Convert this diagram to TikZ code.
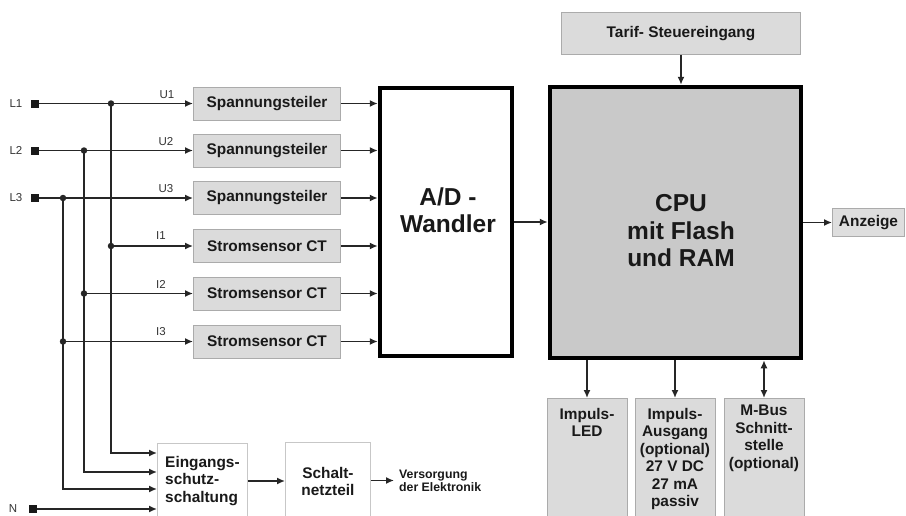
\documentclass[tikz,border=0pt]{standalone}
\usepackage{fontspec}
\setmainfont{Liberation Sans}
\usetikzlibrary{arrows.meta}

\begin{document}
\begin{tikzpicture}[x=1pt, y=-1pt,
            wire/.style={color=black!85, line width=1.5pt},
            feed/.style={wire, -{Latex[length=8pt, width=7pt]}},
            twoway/.style={wire, {Latex[length=8pt, width=7pt]}-{Latex[length=8pt, width=7pt]}},
            greybox/.style={draw=black!33, fill=black!14, line width=0.9pt},
            whitebox/.style={draw=black!22, fill=white, line width=0.9pt},
            bigbox/.style={draw=black, line width=4.5pt},
            boxtext/.style={align=center, text=black!90, inner sep=2pt, font=\bfseries\fontsize{15.4}{17.5}\selectfont},
            bigtext/.style={align=center, text=black!90, inner sep=2pt, font=\bfseries\fontsize{24.5}{27.5}\selectfont},
            smalltext/.style={align=left, text=black!90, inner xsep=5pt, inner ysep=1pt, font=\bfseries\fontsize{12.3}{13}\selectfont},
            sig/.style={text=black!80, inner sep=1pt, font=\fontsize{11.5}{13}\selectfont},
            term/.style={fill=black!90, minimum size=8pt, inner sep=0pt},
            joint/.style={circle, fill=black!85, minimum size=6.5pt, inner sep=0pt}
        ]
            \useasboundingbox (0,0) rectangle (906,515);
            \clip (0,0) rectangle (906,515);

            % input blocks
            \foreach \name/\txt/\y in {sp1/Spannungsteiler/103.5, sp2/Spannungsteiler/150.5, sp3/Spannungsteiler/198,
                                       ct1/Stromsensor CT/246, ct2/Stromsensor CT/293.5, ct3/Stromsensor CT/341.5}{
                \node[greybox, boxtext, minimum width=147pt, minimum height=33pt] (\name) at (267,\y) {\txt};
            }

            % converter and cpu
            \node[bigbox, minimum width=132pt, minimum height=268pt] (ad) at (446,222) {};
            \node[bigtext] (adtxt) at (448,210) {A/D -\\Wandler};
            \node[bigbox, fill=black!21, minimum width=251pt, minimum height=271pt] (cpu) at (675.5,222.5) {};
            \node[bigtext] (cputxt) at (681,231) {CPU\\mit Flash\\und RAM};
            \node[greybox, boxtext, minimum width=239pt, minimum height=42pt] (tarif) at (681,33.5) {Tarif- Steuereingang};
            \node[greybox, boxtext, fill=black!13, minimum width=72pt, minimum height=28pt] (anz) at (868.5,222.5) {Anzeige};

            % outputs below the cpu
            \node[greybox, minimum width=80pt, minimum height=140pt, anchor=north] (led) at (587,398) {};
            \node[greybox, minimum width=80pt, minimum height=140pt, anchor=north] (ausg) at (675,398) {};
            \node[greybox, minimum width=80pt, minimum height=140pt, anchor=north] (mbus) at (764,398) {};
            \node[boxtext, anchor=north] (ledtxt) at ([yshift=-8pt]led.north) {Impuls-\\LED};
            \node[boxtext, anchor=north] (ausgtxt) at ([yshift=-8pt]ausg.north) {Impuls-\\Ausgang\\(optional)\\27 V DC\\27 mA\\passiv};
            \node[boxtext, anchor=north] (mbustxt) at ([yshift=-5pt]mbus.north) {M-Bus\\Schnitt-\\stelle\\(optional)};

            % power supply
            \node[whitebox, minimum width=90pt, minimum height=110pt, anchor=north west] (eing) at (157,443) {};
            \node[boxtext, align=left, anchor=north] (eingtxt) at ([yshift=-11pt]eing.north) {Eingangs-\\schutz-\\schaltung};
            \node[whitebox, minimum width=85pt, minimum height=110pt, anchor=north west] (schalt) at (285,442) {};
            \node[boxtext, anchor=north] (schalttxt) at ([yshift=-23pt]schalt.north) {Schalt-\\netzteil};
            \node[smalltext, anchor=west] (vers) at (394,480.5) {Versorgung\\der Elektronik};

            % terminals
            \node[term] (tL1) at (35,103.5) {};
            \node[term] (tL2) at (35,150.5) {};
            \node[term] (tL3) at (35,198) {};
            \node[term] (tN) at (33,509) {};
            \node[sig] (nL1) at (16,103.5) {L1};
            \node[sig] (nL2) at (16,150.5) {L2};
            \node[sig] (nL3) at (16,198) {L3};
            \node[sig] (nN) at (13,509) {N};

            % branch points
            \coordinate (j1) at (111,103.5);
            \coordinate (j2) at (84,150.5);
            \coordinate (j3) at (63,198);
            \coordinate (k1) at (j1 |- ct1.west);
            \coordinate (k2) at (j2 |- ct2.west);
            \coordinate (k3) at (j3 |- ct3.west);

            % phase lines
            \draw[feed] (tL1) -- (sp1.west);
            \draw[feed] (tL2) -- (sp2.west);
            \draw[feed] (tL3) -- (sp3.west);
            \draw[feed] (k1) -- (ct1.west);
            \draw[feed] (k2) -- (ct2.west);
            \draw[feed] (k3) -- (ct3.west);
            \draw[feed] (j1) |- ([yshift=-10pt]eing.north west);
            \draw[feed] (j2) |- ([yshift=-29pt]eing.north west);
            \draw[feed] (j3) |- ([yshift=-46pt]eing.north west);
            \draw[feed] (tN) -- (tN -| eing.west);

            \foreach \pt in {j1, j2, j3, k1, k2, k3}{
                \node[joint] (d\pt) at (\pt) {};
            }

            % signal names
            \node[sig] (lu1) at (167,95) {U1};
            \node[sig] (lu2) at (166,142) {U2};
            \node[sig] (lu3) at (166,189) {U3};
            \node[sig] (li1) at (161,236) {I1};
            \node[sig] (li2) at (161,284) {I2};
            \node[sig] (li3) at (161,332) {I3};

            % into the converter
            \foreach \name in {sp1, sp2, sp3, ct1, ct2, ct3}{
                \draw[feed] (\name.east) -- (\name.east -| ad.west);
            }
            \draw[feed] (ad.east) -- (ad.east -| cpu.west);
            \draw[feed] (tarif.south) -- (tarif.south |- cpu.north);
            \draw[feed] (cpu.east |- anz.west) -- (anz.west);
            \draw[feed] (cpu.south -| led.north) -- (led.north);
            \draw[feed] (cpu.south -| ausg.north) -- (ausg.north);
            \draw[twoway] (cpu.south -| mbus.north) -- (mbus.north);

            % supply chain
            \draw[feed] ([yshift=-38pt]eing.north east) -- ([yshift=-38pt]eing.north east -| schalt.west);
            \draw[feed] (schalt.east |- vers.west) -- (vers.west);

        \end{tikzpicture}
\end{document}
